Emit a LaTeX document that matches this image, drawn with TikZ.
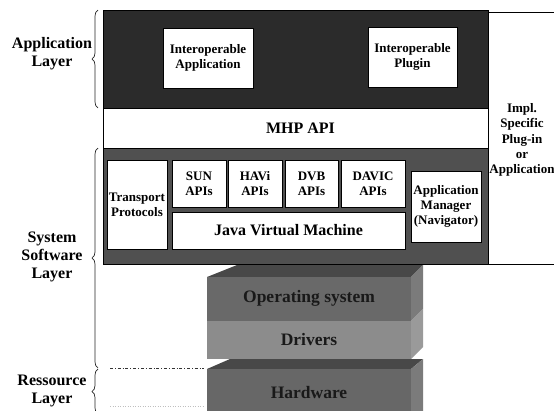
\documentclass[tikz,border=0pt]{standalone}
\usepackage{fontspec}
\setmainfont{Liberation Serif}
\usetikzlibrary{decorations.pathreplacing}
\definecolor{appdark}{HTML}{2B2B2B}
\definecolor{sysdark}{HTML}{505050}
\definecolor{osfront}{HTML}{696969}
\definecolor{osside}{HTML}{7B7B7B}
\definecolor{drvfront}{HTML}{8C8C8C}
\definecolor{drvside}{HTML}{9A9A9A}
\definecolor{topface}{HTML}{484848}
\definecolor{hwfront}{HTML}{676767}
\tikzset{
  wbox/.style={draw=black, line width=0.8pt, fill=white, inner sep=0pt, align=center,
    font=\fontsize{13}{15}\selectfont\bfseries},
  lbl/.style={align=center, inner sep=0pt, font=\fontsize{16}{18}\selectfont\bfseries},
  blk/.style={inner sep=0pt, font=\fontsize{17.5}{20}\selectfont\bfseries, text=black!90},
  brc/.style={decorate, decoration={brace, amplitude=6pt}, line width=0.7pt, draw=black!85},
}
\begin{document}
\begin{tikzpicture}[x=1pt,y=-1pt]
\useasboundingbox (0,0) rectangle (554,410);
% right implementation-specific box
\draw[line width=0.8pt] (560,12) -- (488,12) -- (488,264) -- (560,264);
\node[align=center, inner sep=0pt, font=\fontsize{13}{15.2}\selectfont\bfseries] (impl) at (522,140)
  {Impl.\\Specific\\Plug-in\\or\\Application};
% application layer
\node[draw=black, line width=0.8pt, fill=appdark, minimum width=385pt, minimum height=98pt, inner sep=0pt] (app) at (295.5,59) {};
\node[wbox, minimum width=90pt, minimum height=60pt] (iapp) at (208,58) {Interoperable\\Application};
\node[wbox, minimum width=89pt, minimum height=60pt] (iplug) at (412.5,57) {Interoperable\\Plugin};
% MHP API
\node[draw=black, line width=0.8pt, fill=white, minimum width=385pt, minimum height=40pt, inner sep=0pt,
  font=\fontsize{16}{18}\selectfont\bfseries] (mhp) at (295.5,128) {\hspace{10pt}MHP API};
% system software
\node[draw=black, line width=0.8pt, fill=sysdark, minimum width=385pt, minimum height=116pt, inner sep=0pt] (sys) at (295.5,206) {};
\node[wbox, minimum width=60pt, minimum height=89pt] (tp) at (137,204.5) {Transport\\Protocols};
\node[wbox, minimum width=54pt, minimum height=47pt] (sun) at (199,183.5) {SUN\\APIs};
\node[wbox, minimum width=54pt, minimum height=47pt] (havi) at (255,183.5) {HAVi\\APIs};
\node[wbox, minimum width=53pt, minimum height=47pt] (dvb) at (311.5,183.5) {DVB\\APIs};
\node[wbox, minimum width=64pt, minimum height=47pt] (davic) at (373,183.5) {DAVIC\\APIs};
\node[wbox, minimum width=233pt, minimum height=37pt, font=\fontsize{16}{18}\selectfont\bfseries] (jvm) at (288.5,230.5) {Java Virtual Machine};
\node[wbox, minimum width=70pt, minimum height=71pt] (am) at (446,206.5) {Application\\Manager\\(Navigator)};
% OS and drivers block
\fill[topface] (207,277) -- (237,265) -- (423,265) -- (411,277) -- cycle;
\fill[osfront] (207,277) rectangle (411,321);
\fill[drvfront] (207,321) rectangle (411,359);
\fill[osside] (411,277) -- (423,265) -- (423,309) -- (411,321) -- cycle;
\fill[drvside] (411,321) -- (423,309) -- (423,347) -- (411,359) -- cycle;
\node[blk] (os) at (309,298) {Operating system};
\node[blk] (drv) at (309,340) {Drivers};
% hardware block
\fill[topface] (207,369) -- (230,359) -- (423,359) -- (411,369) -- cycle;
\fill[hwfront] (207,369) rectangle (411,412);
\fill[osside] (411,369) -- (423,359) -- (423,412) -- (411,412) -- cycle;
\node[blk] (hw) at (309,393) {Hardware};
% separator lines
\coordinate (sepA) at (110,368);
\coordinate (sepB) at (204,368);
\draw[line width=0.7pt, dash dot, black!80] (sepA) -- (sepB);
\coordinate (sepC) at (110,406);
\coordinate (sepD) at (204,406);
\draw[line width=0.5pt, dotted, black!25] (sepC) -- (sepD);
% layer labels and braces
\node[lbl] (lapp) at (52,54) {Application\\Layer};
\node[lbl] (lsys) at (52,257) {System\\Software\\Layer};
\node[lbl] (lres) at (52,391) {Ressource\\Layer};
\coordinate (b1a) at (98,108);
\coordinate (b1b) at (98,10);
\coordinate (b2a) at (98,368);
\coordinate (b2b) at (98,148);
\coordinate (b3a) at (98,414);
\coordinate (b3b) at (98,369);
\draw[brc] (b1a) -- (b1b);
\draw[brc] (b2a) -- (b2b);
\draw[brc] (b3a) -- (b3b);
\end{tikzpicture}
\end{document}
